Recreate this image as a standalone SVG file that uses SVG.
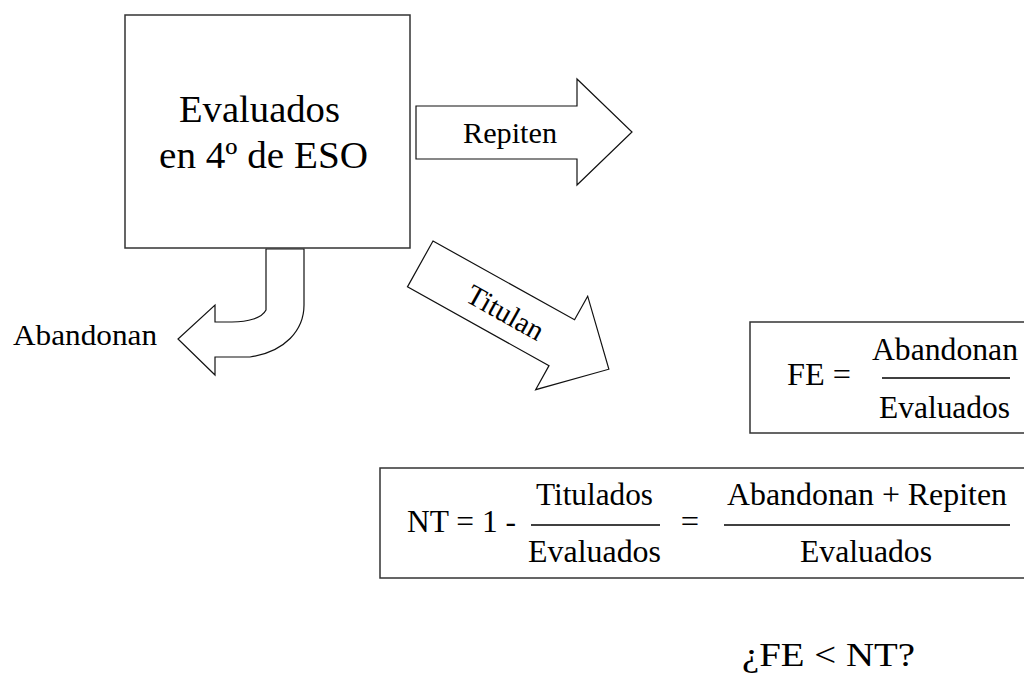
<svg xmlns="http://www.w3.org/2000/svg" width="1024" height="673" viewBox="0 0 1024 673">
<style>
text{font-family:"Liberation Serif","Times New Roman",serif;fill:#000}
.box{fill:#fff;stroke:#333;stroke-width:1.5}
.arrow{fill:#fff;stroke:#111;stroke-width:1.2;stroke-linejoin:miter}
.frac{stroke:#000;stroke-width:1.3}
.c{text-anchor:middle}
.f{font-size:32.5px}
</style>
<rect width="1024" height="673" fill="#fff"/>
<g id="connectors">
<g id="arrow-repiten">
<polygon class="arrow" points="416,106 577,106 577,79 632,132 577,185 577,159 416,159"/>
<text x="463" y="143" font-size="30" textLength="94" lengthAdjust="spacingAndGlyphs">Repiten</text>
</g>
<g id="arrow-titulan" transform="translate(433,241) rotate(29.1)">
<polygon class="arrow" points="0,0 162,0 162,-27 216,26.5 162,80 162,52.5 0,52.5"/>
<text x="98" y="37" font-size="29" class="c" textLength="84" lengthAdjust="spacingAndGlyphs">Titulan</text>
</g>
<g id="arrow-abandonan">
<path class="arrow" d="M266,249 L266,310 C262,318 248,322 232,322 L215,322 L215,305 L178,339 L215,375 L215,357 L250,357 C285,352 304,330 304,305 L304,249 Z"/>
</g>
</g>
<g id="node-evaluados">
<rect class="box" x="125" y="15" width="285" height="233"/>
<text x="179" y="122" font-size="37.5" textLength="161" lengthAdjust="spacingAndGlyphs">Evaluados</text>
<text x="159" y="168" font-size="37.5" textLength="209" lengthAdjust="spacingAndGlyphs">en 4º de ESO</text>
</g>
<g id="label-abandonan">
<text x="13" y="345" font-size="30" textLength="144" lengthAdjust="spacingAndGlyphs">Abandonan</text>
</g>
<g id="formula-fe">
<rect class="box" x="750" y="322" width="300" height="111"/>
<text class="f" x="787" y="385" textLength="64" lengthAdjust="spacingAndGlyphs">FE =</text>
<text class="f" x="872" y="360" textLength="146" lengthAdjust="spacingAndGlyphs">Abandonan</text>
<line class="frac" x1="882" y1="378" x2="1010" y2="378"/>
<text class="f" x="879" y="418" textLength="131" lengthAdjust="spacingAndGlyphs">Evaluados</text>
</g>
<g id="formula-nt">
<rect class="box" x="380" y="468" width="700" height="110"/>
<text class="f" x="407" y="532" textLength="109" lengthAdjust="spacingAndGlyphs">NT = 1 -</text>
<text class="f" x="536" y="505" textLength="117" lengthAdjust="spacingAndGlyphs">Titulados</text>
<line class="frac" x1="531" y1="525" x2="660" y2="525"/>
<text class="f" x="528" y="562" textLength="133" lengthAdjust="spacingAndGlyphs">Evaluados</text>
<text class="f c" x="690" y="532">=</text>
<text class="f" x="727" y="505" textLength="280" lengthAdjust="spacingAndGlyphs">Abandonan + Repiten</text>
<line class="frac" x1="724" y1="525" x2="1010" y2="525"/>
<text class="f" x="800" y="562" textLength="132" lengthAdjust="spacingAndGlyphs">Evaluados</text>
</g>
<g id="question">
<text x="742" y="666" font-size="34" textLength="173" lengthAdjust="spacingAndGlyphs">¿FE &lt; NT?</text>
</g>
</svg>
